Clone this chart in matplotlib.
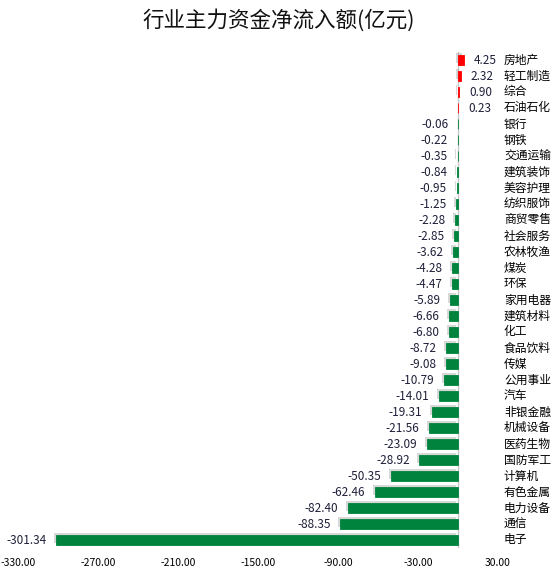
import matplotlib
matplotlib.use("Agg")
import matplotlib.pyplot as plt
import matplotlib.patheffects as pe
from matplotlib.transforms import blended_transform_factory

plt.rcParams['font.family'] = ['Noto Sans CJK SC', 'DejaVu Sans']

categories = ["房地产", "轻工制造", "综合", "石油石化", "银行", "钢铁", "交通运输", "建筑装饰",
              "美容护理", "纺织服饰", "商贸零售", "社会服务", "农林牧渔", "煤炭", "环保", "家用电器",
              "建筑材料", "化工", "食品饮料", "传媒", "公用事业", "汽车", "非银金融", "机械设备",
              "医药生物", "国防军工", "计算机", "有色金属", "电力设备", "通信", "电子"]
values = [4.25, 2.32, 0.90, 0.23, -0.06, -0.22, -0.35, -0.84, -0.95, -1.25, -2.28, -2.85,
          -3.62, -4.28, -4.47, -5.89, -6.66, -6.80, -8.72, -9.08, -10.79, -14.01, -19.31,
          -21.56, -23.09, -28.92, -50.35, -62.46, -82.40, -88.35, -301.34]
xticks = [-330, -270, -210, -150, -90, -30, 30]

fig = plt.figure(figsize=(5.57, 5.73), dpi=100)
ax = fig.add_axes([18/557, 1 - 548/573, 480/557, 496/573])

pos = list(range(len(categories)))
colors = ['#FF0000' if v > 0 else '#00843D' for v in values]
bars = ax.barh(pos, values, height=0.66, color=colors, edgecolor=colors, linewidth=0.6, zorder=3)
for b in bars:
    b.set_path_effects([pe.SimplePatchShadow(offset=(-1.5, 1.5), shadow_rgbFace='gray', alpha=0.3), pe.Normal()])

ax.set_ylim(len(categories) - 0.5, -0.5)
ax.set_xlim(-330, 30)
ax.axvline(0, color='#c8c8c8', lw=1, zorder=2)

for p, v in zip(pos, values):
    if v > 0:
        ax.annotate(f"{v:.2f}", (v, p), xytext=(7, 0), textcoords='offset points',
                    ha='left', va='center', fontsize=8.5, color='#1f1f3a')
    else:
        ax.annotate(f"{v:.2f}", (v, p), xytext=(-7, 0), textcoords='offset points',
                    ha='right', va='center', fontsize=8.5, color='#1f1f3a')

tr = blended_transform_factory(ax.transAxes, ax.transData)
for p, c in zip(pos, categories):
    ax.text(1 + 6/480, p, c, transform=tr, ha='left', va='center', fontsize=8.5, color='black')

ax.set_xticks(xticks)
ax.set_xticklabels([f"{t:.2f}" for t in xticks], fontsize=7.5)
ax.tick_params(axis='x', length=0, pad=7)
ax.set_yticks([])
for s in ax.spines.values():
    s.set_visible(False)

fig.text(0.5, 1 - 20/573, "行业主力资金净流入额(亿元)", ha='center', va='center', fontsize=15.5,
         color='#111111', fontweight='light')

fig.savefig("out.png", dpi=100)
